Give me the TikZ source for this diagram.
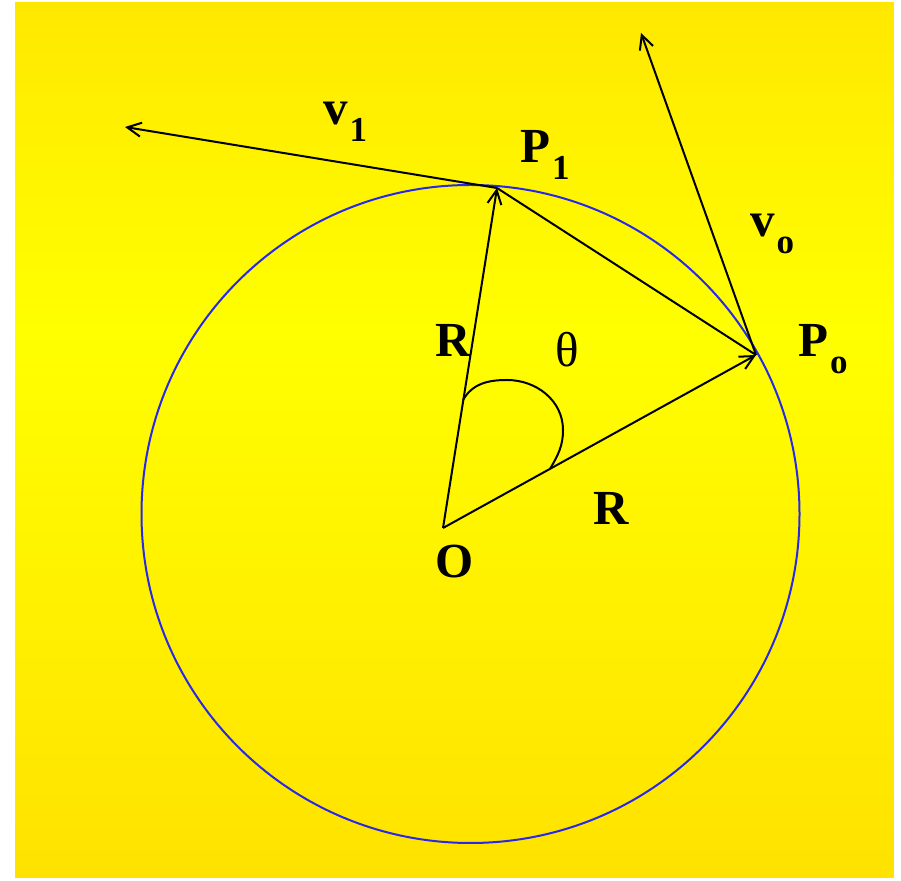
\documentclass[tikz,border=0pt]{standalone}
\usepackage{fontspec}
\setmainfont{Liberation Serif}
\usetikzlibrary{arrows.meta}
\definecolor{bgtop}{RGB}{255,232,0}
\definecolor{bgbot}{RGB}{255,226,0}
\definecolor{bgmid}{RGB}{255,255,0}
\definecolor{rimblue}{RGB}{40,40,235}
% letter with a lowered, smaller index
\newcommand{\vsub}[2]{#1\kern2pt\raisebox{-17pt}{\fontsize{35}{40}\selectfont #2}}

\begin{document}
\begin{tikzpicture}[
    x=1pt, y=1pt,
    >={Straight Barb[length=14pt,width=14pt]},
    plain/.style={line width=2pt, black},
    vecline/.style={plain, ->},
    rim/.style={draw=rimblue, line width=2pt},
    lbl/.style={inner sep=0pt, anchor=base west, font=\fontsize{49}{55}\selectfont\bfseries}
]
\useasboundingbox (0,0) rectangle (901,880);

% ===== BACKGROUND =====
\begin{scope}
\clip (15,3) rectangle (894,877);
\foreach \yy in {0,6,...,876} {
    \ifdim\yy pt>550pt
        \pgfmathsetmacro{\pct}{max(0,100-(\yy+3-550)/3.27)}
        \fill[bgmid!\pct!bgtop] (15,\yy) rectangle (894,\yy+6.5);
    \else
        \pgfmathsetmacro{\pct}{max(0,100-(550-\yy-3)/5.47)}
        \fill[bgmid!\pct!bgbot] (15,\yy) rectangle (894,\yy+6.5);
    \fi
}
\end{scope}

% ===== POINTS =====
\coordinate (C) at (470.5,366);
\coordinate (O) at (443,352);
\coordinate (P1) at (497,692);
\coordinate (Po) at (756,525);
\coordinate (V1) at (125,753);
\coordinate (Vo) at (641,847);

% angle loop
\coordinate (thA) at (463,480);
\coordinate (thT) at (507,500);
\coordinate (thR) at (563,450);
\coordinate (thE) at (550,411);

% ===== CIRCLE =====
\draw[rim] (C) circle (329);

% ===== VECTORS =====
\draw[vecline] (O) -- (P1);
\draw[vecline] (O) -- (Po);
\draw[plain] (P1) -- (Po);
\draw[vecline] (P1) -- (V1);
\draw[vecline] (Po) -- (Vo);

% theta loop
\draw[plain] (thA) to[out=60,in=180] (thT) to[out=0,in=90] (thR) to[out=-90,in=60] (thE);

% ===== LABELS =====
\node[lbl] (lv1) at (323,755) {\vsub{v}{1}};
\node[lbl] (lP1) at (520,717) {\vsub{P}{1}};
\node[lbl] (lvo) at (750,643) {\vsub{v}{o}};
\node[lbl] (lPo) at (798,523) {\vsub{P}{o}};
\node[lbl] (lR1) at (435,523) {R};
\node[lbl, font=\fontsize{49}{55}\selectfont] (lth) at (555,513) {θ};
\node[lbl] (lR2) at (593,355) {R};
\node[lbl] (lO) at (435,302) {O};

\end{tikzpicture}
\end{document}
